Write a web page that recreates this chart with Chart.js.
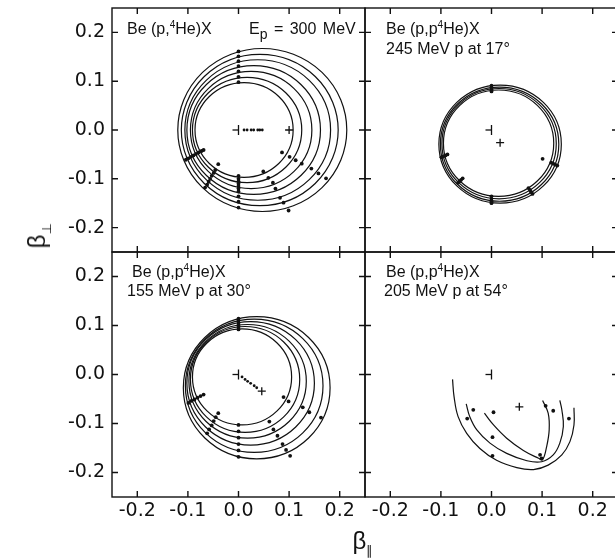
<!DOCTYPE html>
<html>
<head>
<meta charset="utf-8">
<script src="https://cdn.jsdelivr.net/npm/chart.js@4.4.0/dist/chart.umd.min.js"></script>
<style>
  html, body { margin: 0; padding: 0; background: #fff; overflow: hidden; }
  #wrap { position: relative; width: 615px; height: 559px; overflow: hidden; }
  canvas { position: absolute; left: 0; top: 0; }
  .lbl { position: absolute; font-family: 'Liberation Sans', Arial, sans-serif; font-size: 16px; line-height: 16px; color: #111; white-space: nowrap; }
  .lbl .sup { font-size: 10px; position: relative; top: -6px; }
  .lbl .sub { font-size: 14px; position: relative; top: 5px; }
  .axt { position: absolute; font-family: 'Liberation Sans', Arial, sans-serif; font-size: 24px; line-height: 24px; color: #111; white-space: nowrap; }
  .axt .s { font-size: 13px; position: relative; top: 6px; }
</style>
</head>
<body>
<div id="wrap">
  <canvas id="p1" width="620" height="559"></canvas>
  <canvas id="p2" width="620" height="559"></canvas>
  <canvas id="p3" width="620" height="559"></canvas>
  <canvas id="p4" width="620" height="559"></canvas>

  <div class="lbl" style="left:127px; top:21px;">Be (p,<span class="sup">4</span>He)X</div>
  <div class="lbl" style="left:249px; top:21px; word-spacing:2px;">E<span class="sub">p</span> = 300 MeV</div>
  <div class="lbl" style="left:386px; top:21px;">Be (p,p<span class="sup">4</span>He)X</div>
  <div class="lbl" style="left:386px; top:41px;">245 MeV p at 17°</div>
  <div class="lbl" style="left:132px; top:264px;">Be (p,p<span class="sup">4</span>He)X</div>
  <div class="lbl" style="left:127px; top:283px;">155 MeV p at 30°</div>
  <div class="lbl" style="left:386px; top:264px;">Be (p,p<span class="sup">4</span>He)X</div>
  <div class="lbl" style="left:384px; top:283px;">205 MeV p at 54°</div>

  <div class="axt" style="left:39px; top:236px; transform: translate(-50%, -50%) rotate(-90deg);">β<span class="s">⊥</span></div>
  <div class="axt" style="left:363px; top:543px; transform: translate(-50%, -50%);">β<span class="s">∥</span></div>
</div>
<script>
// axes
const tickValues = [-0.2, -0.1, 0, 0.1, 0.2];
const tickLabels = ['-0.2', '-0.1', '0.0', '0.1', '0.2'];

// panel 1 : Be (p,4He)X, Ep = 300 MeV
const p1CircleX = [0.011, 0.017, 0.025, 0.030, 0.038, 0.042, 0.047];
const p1CircleY = [0, 0, 0, 0, 0, 0, 0];
const p1CircleR = [0.097, 0.108, 0.120, 0.132, 0.144, 0.155, 0.167];
const p1Dots = [
  [0, 0.098], [0, 0.109], [0, 0.120], [0, 0.131], [0, 0.141], [0, 0.151], [0, 0.161],
  [0, -0.094], [0, -0.100], [0, -0.105], [0, -0.110], [0, -0.115], [0, -0.120], [0, -0.126],
  [0, -0.136], [0, -0.147], [0, -0.159],
  [0.086, -0.046], [0.101, -0.055], [0.113, -0.062], [0.125, -0.069], [0.144, -0.079], [0.158, -0.089], [0.173, -0.099],
  [0.049, -0.085], [0.059, -0.098], [0.068, -0.108], [0.073, -0.120], [0.082, -0.139], [0.089, -0.149], [0.099, -0.165],
  [-0.073, -0.043], [-0.079, -0.046], [-0.084, -0.049], [-0.089, -0.052], [-0.094, -0.055], [-0.099, -0.058], [-0.104, -0.061],
  [-0.046, -0.082], [-0.049, -0.088], [-0.053, -0.094], [-0.056, -0.100], [-0.059, -0.106], [-0.062, -0.112], [-0.066, -0.118],
  [-0.069, -0.041], [-0.040, -0.070]
];
const p1Cross = [[0.1, 0]];

// panel 2 : 245 MeV p at 17 deg
const p2CircleX = [0.017, 0.016, 0.015, 0.014];
const p2CircleY = [-0.029, -0.029, -0.028, -0.027];
const p2CircleR = [0.121, 0.117, 0.113, 0.109];
const p2Dots = [
  [0, 0.091], [0, 0.087], [0, 0.083], [0, 0.079],
  [0, -0.150], [0, -0.146], [0, -0.141], [0, -0.136],
  [-0.099, -0.056], [-0.095, -0.054], [-0.091, -0.052], [-0.087, -0.050],
  [-0.066, -0.108], [-0.063, -0.105], [-0.060, -0.102], [-0.057, -0.099],
  [0.081, -0.131], [0.078, -0.127], [0.076, -0.123], [0.073, -0.119],
  [0.130, -0.073], [0.126, -0.071], [0.122, -0.069], [0.118, -0.067],
  [0.101, -0.059]
];
const p2Cross = [[0.017, -0.026]];

// panel 3 : 155 MeV p at 30 deg
const p3CircleX = [0.007, 0.013, 0.018, 0.024, 0.031, 0.036];
const p3CircleY = [-0.005, -0.010, -0.014, -0.018, -0.023, -0.027];
const p3CircleR = [0.098, 0.108, 0.116, 0.126, 0.136, 0.145];
const p3Dots = [
  [0, 0.092], [0, 0.097], [0, 0.101], [0, 0.105], [0, 0.110], [0, 0.114],
  [0, -0.103], [0, -0.116], [0, -0.129], [0, -0.142], [0, -0.155], [0, -0.168],
  [0.089, -0.046], [0.099, -0.055], [0.127, -0.067], [0.140, -0.077], [0.163, -0.088],
  [0.061, -0.096], [0.069, -0.112], [0.077, -0.125], [0.087, -0.142], [0.094, -0.154], [0.102, -0.166],
  [-0.069, -0.041], [-0.075, -0.044], [-0.081, -0.047], [-0.087, -0.051], [-0.093, -0.054], [-0.099, -0.058],
  [-0.040, -0.079], [-0.045, -0.087], [-0.049, -0.095], [-0.053, -0.104], [-0.058, -0.112], [-0.062, -0.120]
];
const p3Cross = [[0.046, -0.034]];

// panel 4 : 205 MeV p at 54 deg
const p4CurveA = [
  [-0.077, -0.010], [-0.074, -0.045], [-0.066, -0.086], [-0.049, -0.120], [-0.023, -0.151],
  [0.010, -0.175], [0.050, -0.190], [0.083, -0.194], [0.112, -0.185], [0.139, -0.164],
  [0.155, -0.137], [0.163, -0.103], [0.163, -0.068]
];
const p4CurveB = [
  [-0.050, -0.060], [-0.043, -0.086], [-0.029, -0.113], [-0.003, -0.140], [0.030, -0.161],
  [0.070, -0.176], [0.099, -0.178], [0.122, -0.164], [0.135, -0.140], [0.142, -0.106],
  [0.139, -0.072], [0.135, -0.053]
];
const p4CurveC = [
  [-0.014, -0.079], [0.004, -0.103], [0.030, -0.130], [0.063, -0.155], [0.093, -0.171],
  [0.101, -0.174], [0.109, -0.147], [0.114, -0.113], [0.112, -0.079], [0.101, -0.053]
];
const p4Dots = [
  [-0.036, -0.072], [-0.048, -0.090], [0.004, -0.077], [0.002, -0.128], [0.002, -0.166],
  [0.107, -0.064], [0.122, -0.074], [0.153, -0.090], [0.096, -0.164], [0.099, -0.171]
];
const p4Cross = [[0.055, -0.066]];

const origin = [[0, 0]];

const ink = '#111';

const toXY = arr => arr.map(p => ({ x: p[0], y: p[1] }));

// frame, inward ticks and the kinematic circles
function framePlugin(circles) {
  return {
    id: 'frame',
    beforeDatasetsDraw(chart) {
      if (!circles) return;
      const { ctx, chartArea: a, scales: { x, y } } = chart;
      ctx.save();
      ctx.beginPath();
      ctx.rect(a.left, a.top, a.right - a.left, a.bottom - a.top);
      ctx.clip();
      ctx.strokeStyle = ink;
      ctx.lineWidth = 1.2;
      circles.cx.forEach((cx, i) => {
        const cy = circles.cy[i], r = circles.r[i];
        const px = x.getPixelForValue(cx), py = y.getPixelForValue(cy);
        const rx = x.getPixelForValue(cx + r) - px;
        const ry = py - y.getPixelForValue(cy + r);
        ctx.beginPath();
        ctx.ellipse(px, py, rx, ry, 0, 0, Math.PI * 2);
        ctx.stroke();
      });
      ctx.restore();
    },
    afterDatasetsDraw(chart) {
      const { ctx, chartArea: a, scales: { x, y } } = chart;
      const len = 6;
      ctx.save();
      ctx.strokeStyle = ink;
      ctx.lineWidth = 1.4;
      ctx.strokeRect(a.left, a.top, a.right - a.left, a.bottom - a.top);
      ctx.beginPath();
      tickValues.forEach(v => {
        const px = x.getPixelForValue(v);
        ctx.moveTo(px, a.top); ctx.lineTo(px, a.top + len);
        ctx.moveTo(px, a.bottom); ctx.lineTo(px, a.bottom - len);
        const py = y.getPixelForValue(v);
        ctx.moveTo(a.left, py); ctx.lineTo(a.left + len, py);
        ctx.moveTo(a.right, py); ctx.lineTo(a.right - len, py);
      });
      ctx.stroke();
      ctx.restore();
    }
  };
}

function axis(show, isX) {
  return {
    type: 'linear',
    display: show,
    min: -0.25,
    max: 0.25,
    afterBuildTicks: s => { s.ticks = tickValues.map(v => ({ value: v })); },
    afterFit: s => {
      // keep the panel boxes fixed, labels may overhang
      s.paddingTop = s.paddingBottom = s.paddingLeft = s.paddingRight = 0;
      if (!show) return;
      if (isX) s.height = 62; else s.width = 112;
    },
    grid: { display: false, drawTicks: false },
    border: { display: false },
    ticks: {
      padding: isX ? 3 : 7,
      color: ink,
      font: { family: 'DejaVu Sans', size: 19 },
      maxRotation: 0,
      autoSkip: false,
      callback: (v, i) => tickLabels[i]
    }
  };
}

function makePanel(id, padding, showX, showY, circles, dots, crosses, curves, showCenters) {
  const datasets = [];
  (curves || []).forEach(c => datasets.push({
    data: toXY(c), showLine: true, tension: 0.4, borderColor: ink, borderWidth: 1.2, pointRadius: 0
  }));
  datasets.push({ data: toXY(dots), pointRadius: 1.9, backgroundColor: ink, borderWidth: 0 });
  if (showCenters) {
    datasets.push({
      data: circles.cx.map((cx, i) => ({ x: cx, y: circles.cy[i] })),
      pointRadius: 1.4, backgroundColor: ink, borderWidth: 0
    });
  }
  datasets.push({ data: toXY(crosses), pointStyle: 'cross', pointRadius: 4, borderColor: ink, borderWidth: 1.3 });
  datasets.push({ data: toXY(origin), pointStyle: 'dash', rotation: 180, pointRadius: 6, borderColor: ink, borderWidth: 1.3 });
  datasets.push({ data: toXY(origin), pointStyle: 'line', rotation: 90, pointRadius: 5, borderColor: ink, borderWidth: 1.3 });

  return new Chart(document.getElementById(id), {
    type: 'scatter',
    data: { datasets },
    options: {
      responsive: false,
      animation: false,
      events: [],
      layout: { padding, autoPadding: false },
      plugins: { legend: { display: false }, tooltip: { enabled: false } },
      scales: { x: axis(showX, true), y: axis(showY, false) }
    },
    plugins: [framePlugin(circles)]
  });
}

makePanel('p1', { left: 0, top: 8, right: 255, bottom: 307 }, false, true,
  { cx: p1CircleX, cy: p1CircleY, r: p1CircleR }, p1Dots, p1Cross, null, true);
makePanel('p2', { left: 365, top: 8, right: 2, bottom: 307 }, false, false,
  { cx: p2CircleX, cy: p2CircleY, r: p2CircleR }, p2Dots, p2Cross, null, false);
makePanel('p3', { left: 0, top: 252, right: 255, bottom: 0 }, true, true,
  { cx: p3CircleX, cy: p3CircleY, r: p3CircleR }, p3Dots, p3Cross, null, true);
makePanel('p4', { left: 365, top: 252, right: 2, bottom: 0 }, true, false,
  null, p4Dots, p4Cross, [p4CurveA, p4CurveB, p4CurveC], false);
</script>
</body>
</html>
